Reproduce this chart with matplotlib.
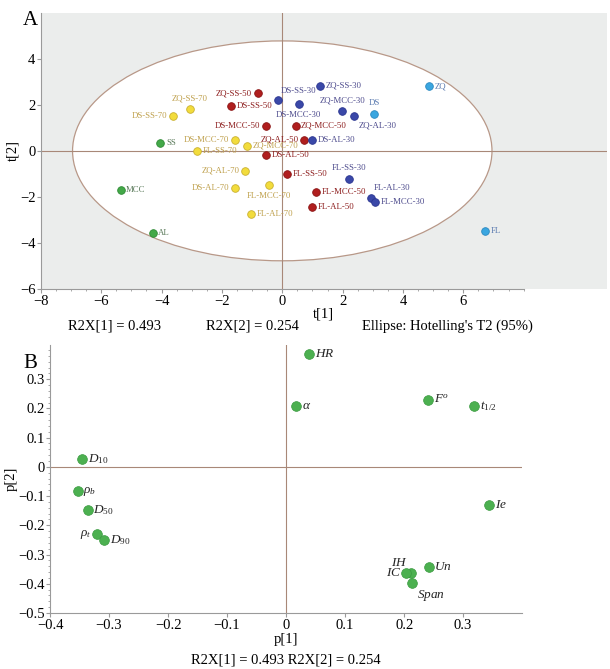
import matplotlib.pyplot as plt
from matplotlib.patches import Ellipse

plt.rcParams['font.family'] = ['Liberation Serif', 'DejaVu Serif']
plt.rcParams['mathtext.fontset'] = 'custom'
plt.rcParams['mathtext.it'] = 'Liberation Serif:italic'
plt.rcParams['mathtext.rm'] = 'Liberation Serif'

# ---- score plot data (panel A) ----
score_names = ['ZQ-SS-30', 'ZQ', 'ZQ-SS-50', 'DS-SS-30', 'DS-MCC-30', 'ZQ-MCC-30', 'ZQ-AL-30', 'DS',
               'ZQ-SS-70', 'DS-SS-70', 'DS-SS-50', 'DS-MCC-50', 'ZQ-MCC-50', 'ZQ-AL-50', 'DS-AL-30',
               'SS', 'DS-MCC-70', 'ZQ-MCC-70', 'FL-SS-70', 'DS-AL-50', 'ZQ-AL-70', 'FL-SS-50',
               'FL-SS-30', 'MCC', 'DS-AL-70', 'FL-MCC-70', 'FL-MCC-50', 'FL-AL-30', 'FL-MCC-30',
               'FL-AL-50', 'FL-AL-70', 'AL', 'FL']
score_t1 = [1.26, 4.87, -0.82, -0.14, 0.54, 1.98, 2.38, 3.05,
            -3.06, -3.61, -1.70, -0.54, 0.44, 0.73, 0.98,
            -4.04, -1.58, -1.17, -2.82, -0.54, -1.22, 0.15,
            2.22, -5.36, -1.58, -0.44, 1.13, 2.94, 3.07,
            0.99, -1.02, -4.30, 6.72]
score_t2 = [2.82, 2.80, 2.50, 2.19, 2.03, 1.73, 1.52, 1.61,
            1.80, 1.50, 1.94, 1.09, 1.10, 0.48, 0.45,
            0.32, 0.47, 0.22, 0.00, -0.17, -0.87, -1.00,
            -1.23, -1.71, -1.62, -1.49, -1.78, -2.03, -2.24,
            -2.42, -2.74, -3.55, -3.50]
score_group = ['30', 'raw', '50', '30', '30', '30', '30', 'raw',
               '70', '70', '50', '50', '50', '50', '30',
               'exc', '70', '70', '70', '50', '70', '50',
               '30', 'exc', '70', '70', '50', '30', '30',
               '50', '70', 'exc', 'raw']
# where the text sits relative to its point
score_side = ['r', 'r', 'l', 'ar', 'b', 'a', 'br', 'a',
              'a', 'l', 'r', 'l', 'r', 'l', 'r',
              'r', 'l', 'r', 'r', 'r', 'l', 'r',
              'a', 'r', 'l', 'b', 'r', 'ar', 'r',
              'r', 'r', 'r', 'r']

# ---- loading plot data (panel B) ----
load_names = [r'$HR$', r'$\alpha$', r'$F^{o}$', r'$t_{1/2}$', r'$D_{10}$', r'$\rho_{b}$', r'$D_{50}$',
              r'$\rho_{t}$', r'$D_{90}$', r'$Ie$', r'$Un$', r'$IH$', r'$IC$', r'$Span$']
load_p1 = [0.039, 0.017, 0.241, 0.319, -0.345, -0.353, -0.336,
           -0.320, -0.308, 0.344, 0.242, 0.211, 0.204, 0.214]
load_p2 = [0.385, 0.207, 0.230, 0.209, 0.026, -0.084, -0.148,
           -0.231, -0.251, -0.130, -0.344, -0.363, -0.363, -0.397]
load_side = ['r', 'r', 'r', 'r', 'r', 'r', 'r', 'l', 'r', 'r', 'r', 'al', 'l', 'br']

dot_colors = {'30': '#3a48a8', '50': '#b01e1e', '70': '#f2dc3c', 'exc': '#43a848', 'raw': '#3aa6e0'}
edge_colors = {'30': '#2a3590', '50': '#8a1414', '70': '#c9b030', 'exc': '#2e8a34', 'raw': '#2a88c0'}
text_colors = {'30': '#4c4a8c', '50': '#8c1c1c', '70': '#bfa04c', 'exc': '#5a7a5a', 'raw': '#5a7ab0'}

offsets = {'r': ((4, 0), 'left', 'center'), 'l': ((-4, 0), 'right', 'center'),
           'a': ((0, 5), 'center', 'bottom'), 'b': ((0, -5), 'center', 'top'),
           'ar': ((2, 4), 'left', 'bottom'), 'br': ((3, -4), 'left', 'top'),
           'al': ((-2, 3), 'right', 'bottom')}

fig = plt.figure(figsize=(6.1, 6.69), dpi=100)
line_col = '#a88878'
spine_col = '#9a9a9a'

# ---------- panel A ----------
ax = fig.add_axes([0.067, 0.568, 0.928, 0.413])
ax.set_facecolor('#ebedec')
ax.add_patch(Ellipse((0, 0), 13.9, 9.55, facecolor='white', edgecolor='#b89888', lw=0.9, zorder=1))
ax.axhline(0, color=line_col, lw=0.8, zorder=2)
ax.axvline(0, color=line_col, lw=0.8, zorder=2)
for name, x, y, g, s in zip(score_names, score_t1, score_t2, score_group, score_side):
    ax.plot(x, y, 'o', ms=5.5, mfc=dot_colors[g], mec=edge_colors[g], mew=0.6, zorder=4)
    off, ha, va = offsets[s]
    ax.annotate(name, (x, y), xytext=off, textcoords='offset points', ha=ha, va=va,
                fontsize=6.3, color=text_colors[g], zorder=5)
ax.set_xlim(-8, 10.76)
ax.set_ylim(-6, 6)
ax.set_xticks(range(-8, 7, 2))
ax.set_yticks(range(-6, 5, 2))
ax.set_xticks([v / 2 for v in range(-16, 17)], minor=True)
ax.tick_params(labelsize=10.5, length=3, color=spine_col, pad=1)
ax.tick_params(which='minor', length=1.5, color=spine_col)
for sp in ['top', 'right']:
    ax.spines[sp].set_visible(False)
for sp in ['left', 'bottom']:
    ax.spines[sp].set_color(spine_col)
    ax.spines[sp].set_linewidth(0.8)
ax.spines['bottom'].set_bounds(-8, 8)
ax.set_ylabel('t[2]', fontsize=10.5, labelpad=0)
ax.set_xlabel('t[1]', fontsize=10.5, labelpad=0)
fig.text(0.038, 0.962, 'A', fontsize=15)
fig.text(115 / 610, 1 - 326 / 669, 'R2X[1] = 0.493', fontsize=10.5, ha='center', va='center')
fig.text(252 / 610, 1 - 326 / 669, 'R2X[2] = 0.254', fontsize=10.5, ha='center', va='center')
fig.text(447 / 610, 1 - 326 / 669, "Ellipse: Hotelling's T2 (95%)", fontsize=10.5, ha='center', va='center')

# ---------- panel B ----------
bx = fig.add_axes([0.082, 0.0837, 0.774, 0.4006])
bx.axhline(0, color=line_col, lw=0.8, zorder=1)
bx.axvline(0, color=line_col, lw=0.8, zorder=1)
for name, x, y, s in zip(load_names, load_p1, load_p2, load_side):
    bx.plot(x, y, 'o', ms=7, mfc='#4cb050', mec='#3a9a40', mew=0.5, zorder=3)
    off, ha, va = offsets[s]
    bx.annotate(name, (x, y), xytext=off, textcoords='offset points', ha=ha, va=va,
                fontsize=9.5, color='#222222', zorder=4)
bx.set_xlim(-0.4, 0.4)
bx.set_ylim(-0.5, 0.417)
bx.set_xticks([-0.4, -0.3, -0.2, -0.1, 0, 0.1, 0.2, 0.3])
bx.set_xticklabels(['\u22120.4', '\u22120.3', '\u22120.2', '\u22120.1', '0', '0.1', '0.2', '0.3'])
bx.set_yticks([-0.5, -0.4, -0.3, -0.2, -0.1, 0, 0.1, 0.2, 0.3])
bx.set_yticklabels(['\u22120.5', '\u22120.4', '\u22120.3', '\u22120.2', '\u22120.1', '0', '0.1', '0.2', '0.3'])
bx.set_yticks([v / 50 for v in range(-25, 21)], minor=True)
bx.tick_params(labelsize=10.5, length=3, color=spine_col, pad=1)
bx.tick_params(which='minor', length=1.5, color=spine_col)
for sp in ['top', 'right']:
    bx.spines[sp].set_visible(False)
for sp in ['left', 'bottom']:
    bx.spines[sp].set_color(spine_col)
    bx.spines[sp].set_linewidth(0.8)
bx.set_ylabel('p[2]', fontsize=10.5, labelpad=0)
bx.set_xlabel('p[1]', fontsize=10.5, labelpad=1)
fig.text(0.038, 0.45, 'B', fontsize=15)
fig.text(286 / 610, 1 - 660 / 669, 'R2X[1] = 0.493 R2X[2] = 0.254', fontsize=10.5, ha='center', va='center')

fig.savefig('out.png', dpi=100)
